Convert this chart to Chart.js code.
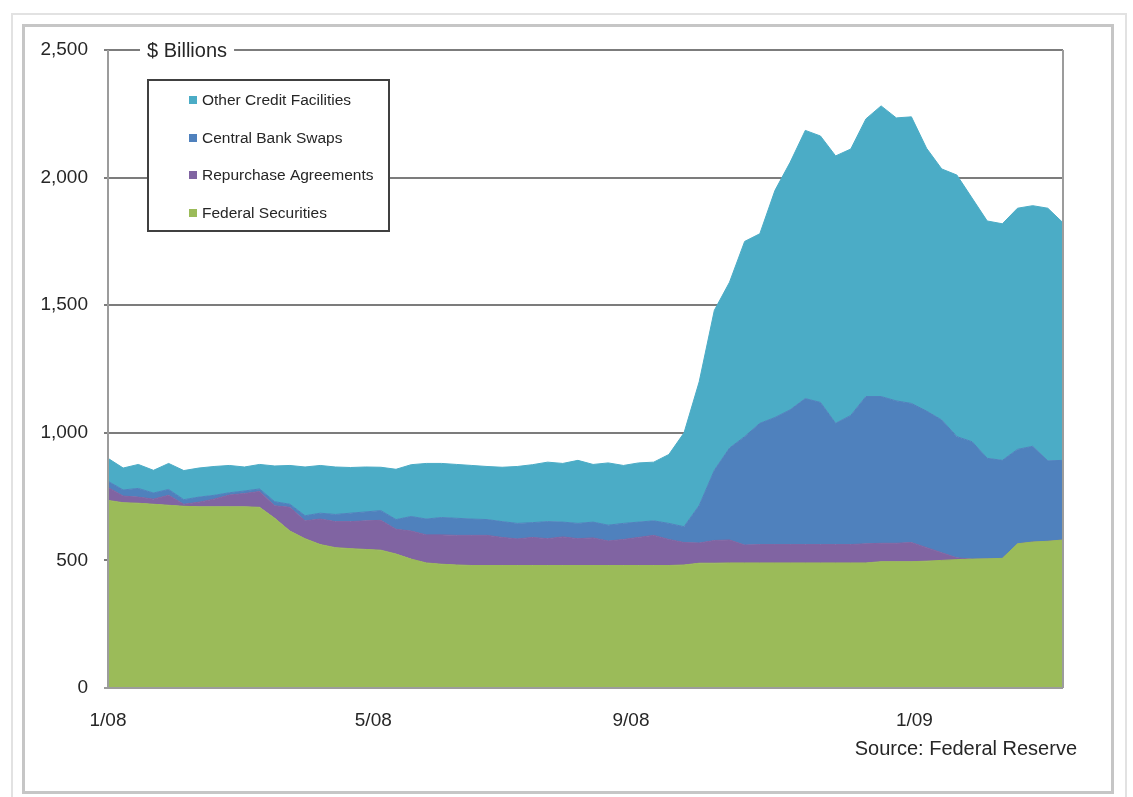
<!DOCTYPE html>
<html>
<head>
<meta charset="utf-8">
<title>Federal Reserve Balance Sheet</title>
<script src="https://cdn.jsdelivr.net/npm/chart.js@4.4.0/dist/chart.umd.min.js"></script>
<style>
  html, body { margin: 0; padding: 0; background: #fff; }
  canvas { display: block; }
</style>
</head>
<body>
<canvas id="chart" width="1133" height="797"></canvas>
<script>
// Weekly (Wednesday) dates of the H.4.1 release, Jan 2008 - Mar 2009
const weeks = [
  '2008-01-02','2008-01-09','2008-01-16','2008-01-23','2008-01-30',
  '2008-02-06','2008-02-13','2008-02-20','2008-02-27',
  '2008-03-05','2008-03-12','2008-03-19','2008-03-26',
  '2008-04-02','2008-04-09','2008-04-16','2008-04-23','2008-04-30',
  '2008-05-07','2008-05-14','2008-05-21','2008-05-28',
  '2008-06-04','2008-06-11','2008-06-18','2008-06-25',
  '2008-07-02','2008-07-09','2008-07-16','2008-07-23','2008-07-30',
  '2008-08-06','2008-08-13','2008-08-20','2008-08-27',
  '2008-09-03','2008-09-10','2008-09-17','2008-09-24',
  '2008-10-01','2008-10-08','2008-10-15','2008-10-22','2008-10-29',
  '2008-11-05','2008-11-12','2008-11-19','2008-11-26',
  '2008-12-03','2008-12-10','2008-12-17','2008-12-24','2008-12-31',
  '2009-01-07','2009-01-14','2009-01-21','2009-01-28',
  '2009-02-04','2009-02-11','2009-02-18','2009-02-25',
  '2009-03-04','2009-03-11','2009-03-18'
];

// $ billions
const federalSecurities = [
  735,726,724,720,716,712,710,710,710,710,708,
  665,615,585,562,550,546,543,540,525,505,
  490,485,482,480,480,480,480,480,480,480,
  480,480,480,480,480,480,480,482,489,489,
  490,490,490,490,490,490,490,490,490,490,
  495,495,495,497,500,503,505,506,508,565,572,575,580
];
const repurchaseAgreements = [
  51,26,24,20,39,8,18,30,46,52,62,
  49,93,70,100,102,106,112,117,97,110,
  110,115,116,118,118,110,104,110,105,112,
  105,108,96,102,110,118,102,88,79,89,
  90,70,72,72,72,72,72,72,72,75,
  72,72,75,53,30,7,0,0,0,0,0,0,0
];
const centralBankSwaps = [
  24,24,34,24,23,18,20,15,9,10,10,
  16,12,20,23,28,33,35,38,38,57,
  62,68,67,64,62,62,61,58,67,58,
  60,62,62,63,60,57,63,62,147,275,
  360,425,475,498,528,572,557,475,506,577,
  575,558,545,535,520,475,460,394,384,370,375,315,312
];
const otherCreditFacilities = [
  90,86,94,89,102,114,114,113,107,94,96,
  140,152,191,187,186,179,176,170,197,203,
  218,212,211,210,208,213,223,227,233,230,
  247,226,244,227,232,230,270,368,485,627,
  650,765,743,890,970,1051,1044,1048,1044,1088,
  1139,1109,1123,1030,984,1025,955,930,927,945,943,990,931
];

// x-axis labels and the week position each one sits at
const xTickLabels = ['1/08', '5/08', '9/08', '1/09'];
const xTickWeeks = [0, 17.5, 34.5, 53.2];

const FONT = '"Liberation Sans", Arial, Helvetica, sans-serif';
const TEXT = '#262626';

const toPoints = arr => arr.map((v, i) => ({ x: i, y: v }));

const series = [
  { label: 'Federal Securities',      values: federalSecurities,    color: '#9BBB59', fill: 'origin' },
  { label: 'Repurchase Agreements',   values: repurchaseAgreements, color: '#8064A2', fill: '-1' },
  { label: 'Central Bank Swaps',      values: centralBankSwaps,     color: '#4F81BD', fill: '-1' },
  { label: 'Other Credit Facilities', values: otherCreditFacilities, color: '#4BACC6', fill: '-1' }
];

const decorations = {
  id: 'decorations',
  beforeDraw(chart) {
    const ctx = chart.ctx;
    ctx.save();
    ctx.fillStyle = '#fff';
    ctx.fillRect(0, 0, chart.width, chart.height);
    // outer and inner panel frames
    ctx.strokeStyle = '#e2e2e2';
    ctx.lineWidth = 2;
    ctx.strokeRect(12, 14, 1114, 800);
    ctx.strokeStyle = '#c6c6c6';
    ctx.lineWidth = 3;
    ctx.strokeRect(23.5, 25.5, 1089, 767);
    ctx.restore();
  },
  afterDatasetsDraw(chart) {
    const { ctx, chartArea: a } = chart;
    ctx.save();
    ctx.strokeStyle = '#9c9c9c';
    ctx.lineWidth = 2;
    ctx.beginPath();
    ctx.moveTo(a.left, a.top); ctx.lineTo(a.left, a.bottom);
    ctx.moveTo(a.left - 4, a.bottom); ctx.lineTo(a.right, a.bottom);
    ctx.moveTo(a.right, a.top); ctx.lineTo(a.right, a.bottom);
    ctx.stroke();
    ctx.restore();
  },
  afterDraw(chart) {
    const { ctx, chartArea: a } = chart;
    ctx.save();

    // unit caption sitting on the top gridline
    ctx.font = '20px ' + FONT;
    const cap = '$ Billions';
    const capW = ctx.measureText(cap).width;
    ctx.fillStyle = '#fff';
    ctx.fillRect(a.left + 32, a.top - 12, capW + 14, 24);
    ctx.fillStyle = TEXT;
    ctx.textAlign = 'left';
    ctx.textBaseline = 'middle';
    ctx.fillText(cap, a.left + 39, a.top + 1);

    // legend box
    const bx = 148, by = 80, bw = 241, bh = 151;
    ctx.fillStyle = '#fff';
    ctx.fillRect(bx, by, bw, bh);
    ctx.strokeStyle = '#404040';
    ctx.lineWidth = 2;
    ctx.strokeRect(bx, by, bw, bh);
    ctx.font = '15.5px ' + FONT;
    const rows = [100, 138, 175, 213];
    const sets = chart.data.datasets.slice().reverse();
    sets.forEach((ds, k) => {
      const cy = rows[k];
      ctx.fillStyle = ds.backgroundColor;
      ctx.fillRect(189, cy - 4, 8, 8);
      ctx.fillStyle = TEXT;
      ctx.fillText(ds.label, 202, cy + 1);
    });

    // source note
    ctx.font = '20px ' + FONT;
    ctx.textAlign = 'right';
    ctx.fillStyle = TEXT;
    ctx.fillText('Source: Federal Reserve', 1077, 749);
    ctx.restore();
  }
};

new Chart(document.getElementById('chart'), {
  type: 'line',
  data: {
    labels: weeks,
    datasets: series.map(s => ({
      label: s.label,
      data: toPoints(s.values),
      backgroundColor: s.color,
      borderColor: s.color,
      borderWidth: 1,
      pointRadius: 0,
      pointHoverRadius: 0,
      tension: 0,
      fill: s.fill
    }))
  },
  options: {
    responsive: false,
    animation: false,
    devicePixelRatio: 1,
    layout: { padding: { left: 0, top: 50, right: 70, bottom: 0 } },
    plugins: {
      legend: { display: false },
      title: { display: false },
      tooltip: { enabled: false }
    },
    scales: {
      x: {
        type: 'linear',
        min: 0,
        max: weeks.length - 1,
        afterFit(scale) { scale.height = 109; },
        afterBuildTicks(scale) { scale.ticks = xTickWeeks.map(v => ({ value: v })); },
        ticks: {
          autoSkip: false,
          maxRotation: 0,
          padding: 21,
          color: TEXT,
          font: { family: FONT, size: 19 },
          callback: (v, i) => xTickLabels[i]
        },
        grid: { display: false, drawTicks: false },
        border: { display: false }
      },
      y: {
        stacked: true,
        min: 0,
        max: 2500,
        afterFit(scale) { scale.width = 108; },
        ticks: {
          stepSize: 500,
          padding: 16,
          color: TEXT,
          font: { family: FONT, size: 19 },
          callback: v => v.toLocaleString('en-US')
        },
        grid: { color: '#7c7c7c', lineWidth: 2, tickLength: 4, drawTicks: true },
        border: { display: false }
      }
    }
  },
  plugins: [decorations]
});
</script>
</body>
</html>
